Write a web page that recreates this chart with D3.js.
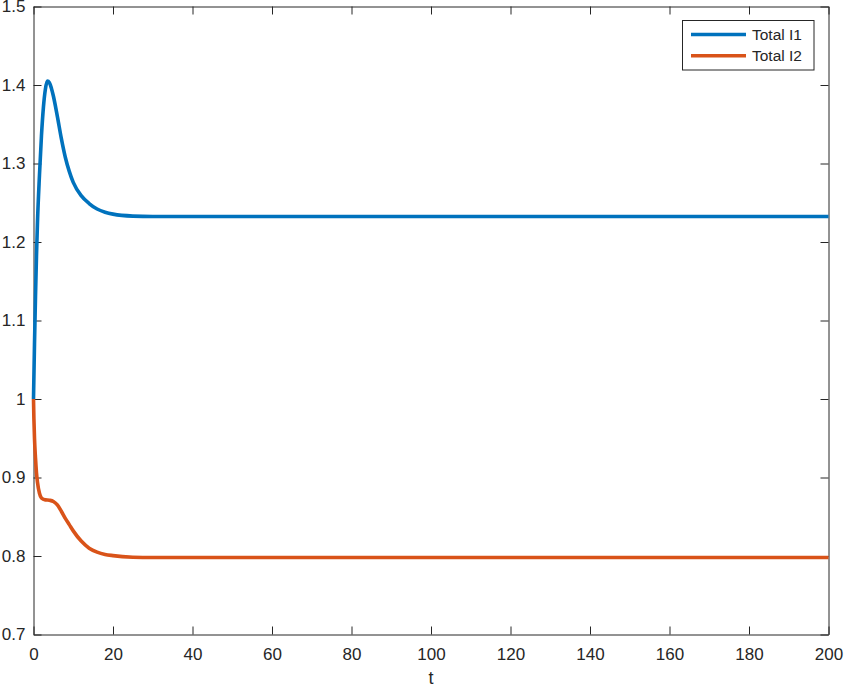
<!DOCTYPE html>
<html>
<head>
<meta charset="utf-8">
<script src="https://cdn.jsdelivr.net/npm/d3@7"></script>
<style>
body { margin: 0; background: #fff; }
text { font-family: "Liberation Sans", Arial, sans-serif; fill: #262626; }
</style>
</head>
<body>
<svg width="845" height="687"></svg>
<script>
// data
var tBlue = [0, 0.25, 0.5, 0.75, 1, 1.5, 2, 2.5, 3, 3.5, 4, 4.5, 5, 6, 7, 8, 9, 10, 12, 14, 16, 18, 20, 25, 30, 60, 200];
var totalI1 = [1.0, 1.07, 1.13, 1.182, 1.225, 1.285, 1.335, 1.372, 1.395, 1.405, 1.403, 1.396, 1.386, 1.36, 1.332, 1.308, 1.29, 1.276, 1.259, 1.249, 1.242, 1.238, 1.2355, 1.233, 1.2325, 1.2325, 1.2325];

var tOrange = [0, 0.1, 0.25, 0.5, 0.75, 1, 1.5, 2, 3, 4, 5, 6, 7, 8, 9, 10, 12, 14, 16, 18, 20, 25, 30, 60, 200];
var totalI2 = [1.0, 0.975, 0.95, 0.925, 0.906, 0.894, 0.88, 0.874, 0.8715, 0.871, 0.8695, 0.865, 0.857, 0.848, 0.84, 0.832, 0.819, 0.81, 0.805, 0.802, 0.8005, 0.7985, 0.798, 0.798, 0.798];

var xTicks = [0, 20, 40, 60, 80, 100, 120, 140, 160, 180, 200];
var yTicks = [0.7, 0.8, 0.9, 1, 1.1, 1.2, 1.3, 1.4, 1.5];
var seriesNames = ["Total I1", "Total I2"];
var colors = ["#0072BD", "#D95319"];

var svg = d3.select("svg");
var pLeft = 33.5, pRight = 828.5, pTop = 6.5, pBottom = 634.5;

var x = d3.scaleLinear().domain([0, 200]).range([pLeft, pRight]);
var y = d3.scaleLinear().domain([0.7, 1.5]).range([pBottom, pTop]);

var tickLen = 8;
var axisColor = "#262626";

var fmt = function (d) { return String(+d.toFixed(1)); };

function styleAxis(g) {
    g.select(".domain").attr("stroke", axisColor);
    g.selectAll(".tick line").attr("stroke", axisColor);
    g.selectAll("text").attr("font-size", 17).attr("fill", axisColor)
        .attr("font-family", "Liberation Sans, Arial, sans-serif");
}

// bottom axis
svg.append("g")
    .attr("transform", "translate(0," + pBottom + ")")
    .call(d3.axisBottom(x).tickValues(xTicks).tickSizeInner(-tickLen).tickSizeOuter(0).tickPadding(13))
    .call(styleAxis);

// top axis (no labels)
svg.append("g")
    .attr("transform", "translate(0," + pTop + ")")
    .call(d3.axisTop(x).tickValues(xTicks).tickSizeInner(-tickLen).tickSizeOuter(0).tickFormat(""))
    .call(styleAxis);

// left axis
svg.append("g")
    .attr("transform", "translate(" + pLeft + ",0)")
    .call(d3.axisLeft(y).tickValues(yTicks).tickSizeInner(-tickLen).tickSizeOuter(0).tickPadding(8).tickFormat(fmt))
    .call(styleAxis);

// right axis (no labels)
svg.append("g")
    .attr("transform", "translate(" + pRight + ",0)")
    .call(d3.axisRight(y).tickValues(yTicks).tickSizeInner(-tickLen).tickSizeOuter(0).tickFormat(""))
    .call(styleAxis);

// x label
svg.append("text")
    .attr("x", (pLeft + pRight) / 2)
    .attr("y", 684)
    .attr("text-anchor", "middle")
    .attr("font-size", 18)
    .text("t");

var line = d3.line()
    .x(function (d) { return x(d[0]); })
    .y(function (d) { return y(d[1]); })
    .curve(d3.curveMonotoneX);

var series = [
    d3.zip(tBlue, totalI1),
    d3.zip(tOrange, totalI2)
];

svg.append("g")
    .selectAll("path")
    .data(series)
    .enter().append("path")
    .attr("fill", "none")
    .attr("stroke", function (d, i) { return colors[i]; })
    .attr("stroke-width", 3.6)
    .attr("stroke-linejoin", "round")
    .attr("d", line);

// legend
var lg = svg.append("g").attr("class", "legend");
lg.append("rect")
    .attr("x", 682.5).attr("y", 20.5)
    .attr("width", 131.5).attr("height", 49.5)
    .attr("fill", "#fff")
    .attr("stroke", axisColor);

var rows = lg.selectAll("g.row")
    .data(seriesNames)
    .enter().append("g")
    .attr("class", "row")
    .attr("transform", function (d, i) { return "translate(0," + (34.5 + i * 21.3) + ")"; });

rows.append("line")
    .attr("x1", 691).attr("x2", 746)
    .attr("stroke", function (d, i) { return colors[i]; })
    .attr("stroke-width", 3.6);

rows.append("text")
    .attr("x", 752)
    .attr("dy", "0.35em")
    .attr("font-size", 15.5)
    .text(function (d) { return d; });
</script>
</body>
</html>
